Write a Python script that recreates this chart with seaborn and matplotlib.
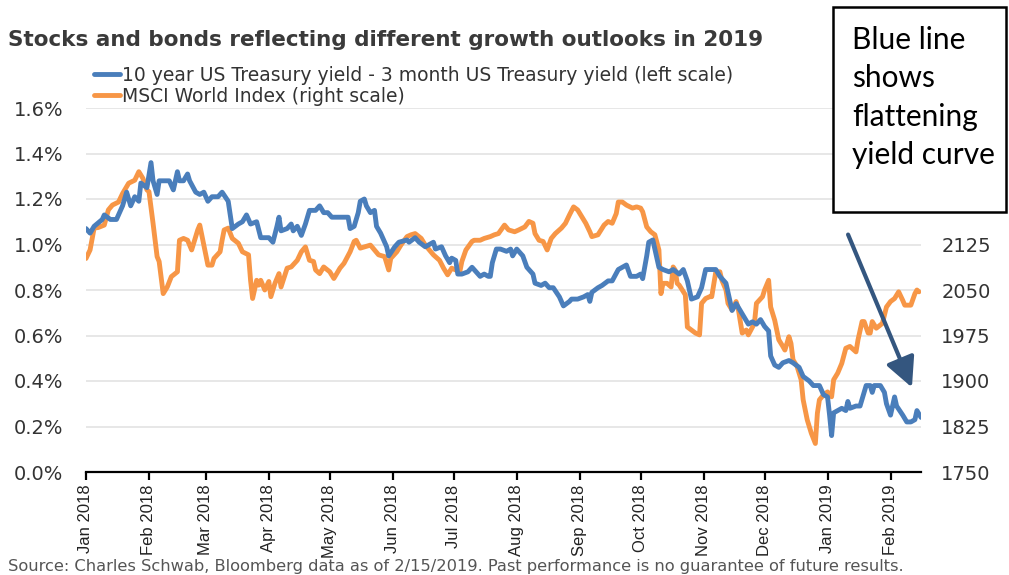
import pandas as pd
import matplotlib
matplotlib.use('Agg')
import matplotlib.pyplot as plt
import matplotlib.dates as mdates
from matplotlib.patches import Rectangle, FancyArrowPatch
import seaborn as sns

# day offsets from 1 Jan 2018
spread_days = [0, 2, 4, 8, 9, 12, 15, 18, 20, 22, 24, 26, 27, 30, 32, 33, 35, 36, 39, 41,
               43, 45, 46, 48, 50, 51, 54, 56, 58, 60, 62, 65, 67, 70, 72, 75, 77, 79, 81, 84,
               86, 88, 90, 92, 94, 95, 96, 99, 101, 102, 104, 106, 108, 110, 113, 115, 117, 119, 121, 123,
               126, 129, 130, 132, 134, 135, 137, 138, 140, 142, 143, 145, 148, 149, 152, 154, 158, 159, 162, 164,
               167, 171, 172, 175, 177, 179, 180, 182, 183, 185, 188, 190, 192, 194, 196, 198, 199, 200, 202, 204,
               207, 209, 210, 212, 213, 215, 217, 220, 221, 224, 226, 228, 230, 233, 235, 238, 239, 242, 245, 247,
               248, 249, 252, 254, 257, 259, 262, 264, 266, 268, 271, 273, 274, 276, 277, 279, 280, 282, 284, 287,
               289, 292, 294, 296, 298, 301, 303, 305, 307, 310, 312, 315, 316, 318, 320, 322, 324, 326, 328, 330,
               332, 334, 336, 337, 339, 341, 343, 346, 348, 351, 353, 356, 358, 361, 363, 365, 366, 367, 368, 370,
               372, 374, 375, 376, 379, 381, 383, 384, 386, 387, 388, 391, 393, 394, 396, 398, 399, 402, 404, 406,
               408, 409, 411]
spread_pct = [1.07, 1.05, 1.08, 1.11, 1.13, 1.11, 1.11, 1.17, 1.23, 1.17, 1.21, 1.19, 1.27, 1.25, 1.36, 1.28, 1.22, 1.28, 1.28, 1.28,
              1.24, 1.32, 1.28, 1.28, 1.31, 1.28, 1.23, 1.22, 1.23, 1.19, 1.21, 1.21, 1.23, 1.19, 1.07, 1.09, 1.10, 1.13, 1.09, 1.10,
              1.03, 1.03, 1.03, 1.01, 1.08, 1.12, 1.06, 1.07, 1.09, 1.06, 1.08, 1.04, 1.09, 1.15, 1.15, 1.17, 1.14, 1.14, 1.12, 1.12,
              1.12, 1.12, 1.07, 1.08, 1.14, 1.19, 1.20, 1.17, 1.14, 1.15, 1.08, 1.05, 0.99, 0.95, 0.99, 1.01, 1.02, 1.01, 1.03, 1.01,
              0.99, 1.01, 0.98, 0.99, 0.95, 0.92, 0.94, 0.93, 0.87, 0.87, 0.88, 0.90, 0.88, 0.86, 0.87, 0.86, 0.86, 0.92, 0.98, 0.98,
              0.97, 0.98, 0.95, 0.98, 0.97, 0.95, 0.90, 0.87, 0.83, 0.82, 0.83, 0.81, 0.81, 0.77, 0.73, 0.75, 0.76, 0.76, 0.77, 0.78,
              0.75, 0.79, 0.81, 0.82, 0.84, 0.84, 0.89, 0.90, 0.91, 0.86, 0.86, 0.87, 0.85, 0.95, 1.01, 1.02, 0.98, 0.90, 0.89, 0.88,
              0.89, 0.87, 0.89, 0.84, 0.76, 0.77, 0.81, 0.89, 0.89, 0.89, 0.86, 0.83, 0.79, 0.71, 0.74, 0.71, 0.68, 0.65, 0.66, 0.65,
              0.67, 0.64, 0.62, 0.51, 0.47, 0.46, 0.48, 0.49, 0.48, 0.46, 0.42, 0.40, 0.38, 0.38, 0.34, 0.33, 0.25, 0.16, 0.26, 0.27,
              0.28, 0.27, 0.31, 0.28, 0.29, 0.29, 0.35, 0.38, 0.38, 0.35, 0.38, 0.38, 0.35, 0.30, 0.25, 0.33, 0.29, 0.25, 0.22, 0.22,
              0.23, 0.27, 0.24]

msci_days = [0, 2, 4, 6, 9, 11, 13, 16, 18, 21, 24, 26, 28, 30, 31, 33, 35, 36, 38, 40,
             42, 45, 46, 48, 50, 52, 54, 55, 56, 58, 60, 62, 63, 66, 67, 68, 70, 72, 75, 77,
             80, 81, 82, 84, 85, 86, 88, 90, 91, 93, 95, 96, 99, 101, 104, 106, 108, 110, 112, 113,
             115, 117, 120, 122, 125, 127, 130, 132, 133, 135, 137, 140, 142, 144, 147, 149, 150, 153, 155, 158,
             160, 162, 165, 167, 169, 171, 174, 176, 178, 180, 182, 184, 185, 187, 190, 191, 194, 196, 199, 201,
             203, 206, 208, 211, 213, 216, 218, 220, 221, 223, 225, 227, 229, 231, 234, 236, 238, 240, 242, 244,
             246, 248, 249, 252, 255, 257, 259, 261, 262, 264, 266, 269, 271, 273, 274, 276, 278, 280, 282, 283,
             284, 286, 288, 289, 290, 291, 292, 295, 296, 298, 300, 302, 303, 305, 307, 308, 310, 312, 313, 315,
             316, 318, 320, 321, 323, 325, 326, 329, 330, 333, 334, 336, 337, 339, 341, 343, 344, 346, 347, 348,
             350, 352, 353, 355, 357, 359, 360, 361, 363, 365, 367, 368, 370, 372, 374, 376, 379, 380, 382, 383,
             385, 386, 387, 389, 392, 394, 396, 398, 400, 402, 403, 405, 406, 408, 409, 410]
msci_level = [2102, 2116, 2152, 2153, 2157, 2182, 2190, 2195, 2209, 2226, 2231, 2245, 2234, 2215, 2212, 2160, 2105, 2097, 2044, 2055,
              2072, 2080, 2132, 2135, 2132, 2116, 2138, 2149, 2157, 2124, 2091, 2091, 2102, 2113, 2132, 2149, 2152, 2135, 2127, 2113,
              2108, 2066, 2036, 2066, 2058, 2066, 2050, 2064, 2039, 2061, 2077, 2055, 2086, 2088, 2099, 2113, 2121, 2099, 2097, 2083,
              2077, 2088, 2080, 2069, 2086, 2094, 2113, 2130, 2132, 2119, 2121, 2124, 2116, 2108, 2105, 2083, 2102, 2113, 2124, 2138,
              2141, 2143, 2135, 2124, 2116, 2108, 2099, 2086, 2075, 2086, 2083, 2080, 2097, 2116, 2130, 2132, 2132, 2135, 2138, 2141,
              2143, 2157, 2149, 2146, 2149, 2154, 2163, 2160, 2143, 2132, 2130, 2116, 2135, 2143, 2152, 2160, 2174, 2187, 2182, 2171,
              2160, 2146, 2138, 2141, 2157, 2163, 2160, 2176, 2195, 2195, 2190, 2185, 2187, 2185, 2179, 2154, 2146, 2141, 2116, 2044,
              2061, 2061, 2055, 2088, 2083, 2061, 2058, 2042, 1989, 1984, 1979, 1976, 2028, 2036, 2039, 2039, 2080, 2080, 2066, 2050,
              2028, 2017, 2031, 2020, 1979, 1984, 1976, 1995, 2028, 2039, 2050, 2066, 2022, 2000, 1968, 1957, 1951, 1973, 1962, 1935,
              1924, 1902, 1869, 1836, 1814, 1797, 1847, 1869, 1877, 1882, 1874, 1902, 1913, 1929, 1954, 1957, 1948, 1968, 1998, 1998,
              1979, 1979, 1998, 1987, 1995, 2022, 2031, 2036, 2047, 2033, 2025, 2025, 2025, 2044, 2050, 2047]

left_ticks = [0.0, 0.2, 0.4, 0.6, 0.8, 1.0, 1.2, 1.4, 1.6]
right_ticks = [1750, 1825, 1900, 1975, 2050, 2125]

title = 'Stocks and bonds reflecting different growth outlooks in 2019'
label_spread = '10 year US Treasury yield - 3 month US Treasury yield (left scale)'
label_msci = 'MSCI World Index (right scale)'
source = ('Source: Charles Schwab, Bloomberg data as of 2/15/2019. '
          'Past performance is no guarantee of future results.')
note = 'Blue line\nshows\nflattening\nyield curve'

blue = '#4A7EBB'
orange = '#F79646'

start = pd.Timestamp('2018-01-01')
df_spread = pd.DataFrame({'date': start + pd.to_timedelta(spread_days, unit='D'), 'pct': spread_pct})
df_msci = pd.DataFrame({'date': start + pd.to_timedelta(msci_days, unit='D'), 'level': msci_level})

sns.set_style('white')
plt.rcParams['font.family'] = ['DejaVu Sans']

fig = plt.figure(figsize=(10.09, 5.75), dpi=100)
ax = fig.add_axes([86 / 1009, 1 - 472 / 575, (921 - 86) / 1009, (472 - 108) / 575])
ax2 = ax.twinx()

sns.lineplot(data=df_spread, x='date', y='pct', ax=ax, color=blue, lw=3.5, label=label_spread, legend=False)
sns.lineplot(data=df_msci, x='date', y='level', ax=ax2, color=orange, lw=3.5, label=label_msci, legend=False)
ax.set_zorder(ax2.get_zorder() + 1)
ax.patch.set_visible(False)

ax.set_ylim(0, 1.6)
ax2.set_ylim(1750, 2350)
ax.set_xlim(start, start + pd.Timedelta(days=411))
ax.set_yticks(left_ticks)
ax.set_yticklabels([f'{t:.1f}%' for t in left_ticks])
ax2.set_yticks(right_ticks)
ax.set_xlabel('')
ax.set_ylabel('')
ax2.set_ylabel('')

for t in left_ticks[1:]:
    ax2.axhline(1750 + t / 0.2 * 75, color='#E3E3E3', lw=1.2, zorder=0)

ax.xaxis.set_major_locator(mdates.MonthLocator())
ax.xaxis.set_major_formatter(mdates.DateFormatter('%b %Y'))
for lab in ax.get_xticklabels():
    lab.set_rotation(90)
    lab.set_family(['Liberation Sans', 'DejaVu Sans'])
    lab.set_fontsize(12)

for a in (ax, ax2):
    for s in ['top', 'left', 'right']:
        a.spines[s].set_visible(False)
ax2.spines['bottom'].set_visible(False)
ax.spines['bottom'].set_color('black')
ax.spines['bottom'].set_linewidth(1.6)
ax.tick_params(axis='x', bottom=True, length=6, width=1.6, color='black', pad=3, labelcolor='#222222')
ax.tick_params(axis='y', left=False, pad=13, labelsize=14, labelcolor='#333333')
ax2.tick_params(axis='y', right=False, pad=11, labelsize=14, labelcolor='#333333')

fig.text(8 / 1009, 1 - 40 / 575, title, fontsize=15.5, fontweight='bold', color='#3a3a3a', va='center')

h1, l1 = ax.get_legend_handles_labels()
h2, l2 = ax2.get_legend_handles_labels()
fig.legend(h1 + h2, l1 + l2, loc='upper left', bbox_to_anchor=(94 / 1009, 1 - 66 / 575),
           frameon=False, fontsize=13.5, handlelength=1.4, handletextpad=0.1,
           labelspacing=0.1, borderpad=0, borderaxespad=0, labelcolor='#333333')

fig.text(8 / 1009, 1 - 566 / 575, source, fontsize=11.7, color='#555555', va='center')

box = Rectangle((833 / 1009, 1 - 212 / 575), (1006 - 833) / 1009, (212 - 7) / 575,
                transform=fig.transFigure, facecolor='white', edgecolor='black', lw=1.8, zorder=10)
fig.add_artist(box)
fig.text(852 / 1009, 1 - 26 / 575, note, fontsize=21.5, family=['Lato', 'DejaVu Sans'],
         va='top', ha='left', linespacing=1.45, color='black', zorder=11)

fig.add_artist(FancyArrowPatch(
    (847 / 1009, 1 - 232 / 575), (913 / 1009, 1 - 390 / 575), transform=fig.transFigure,
    arrowstyle='-|>,head_length=12,head_width=6', mutation_scale=1.5, color='#34567F', lw=3, zorder=12))

fig.savefig('out.png', dpi=100)
